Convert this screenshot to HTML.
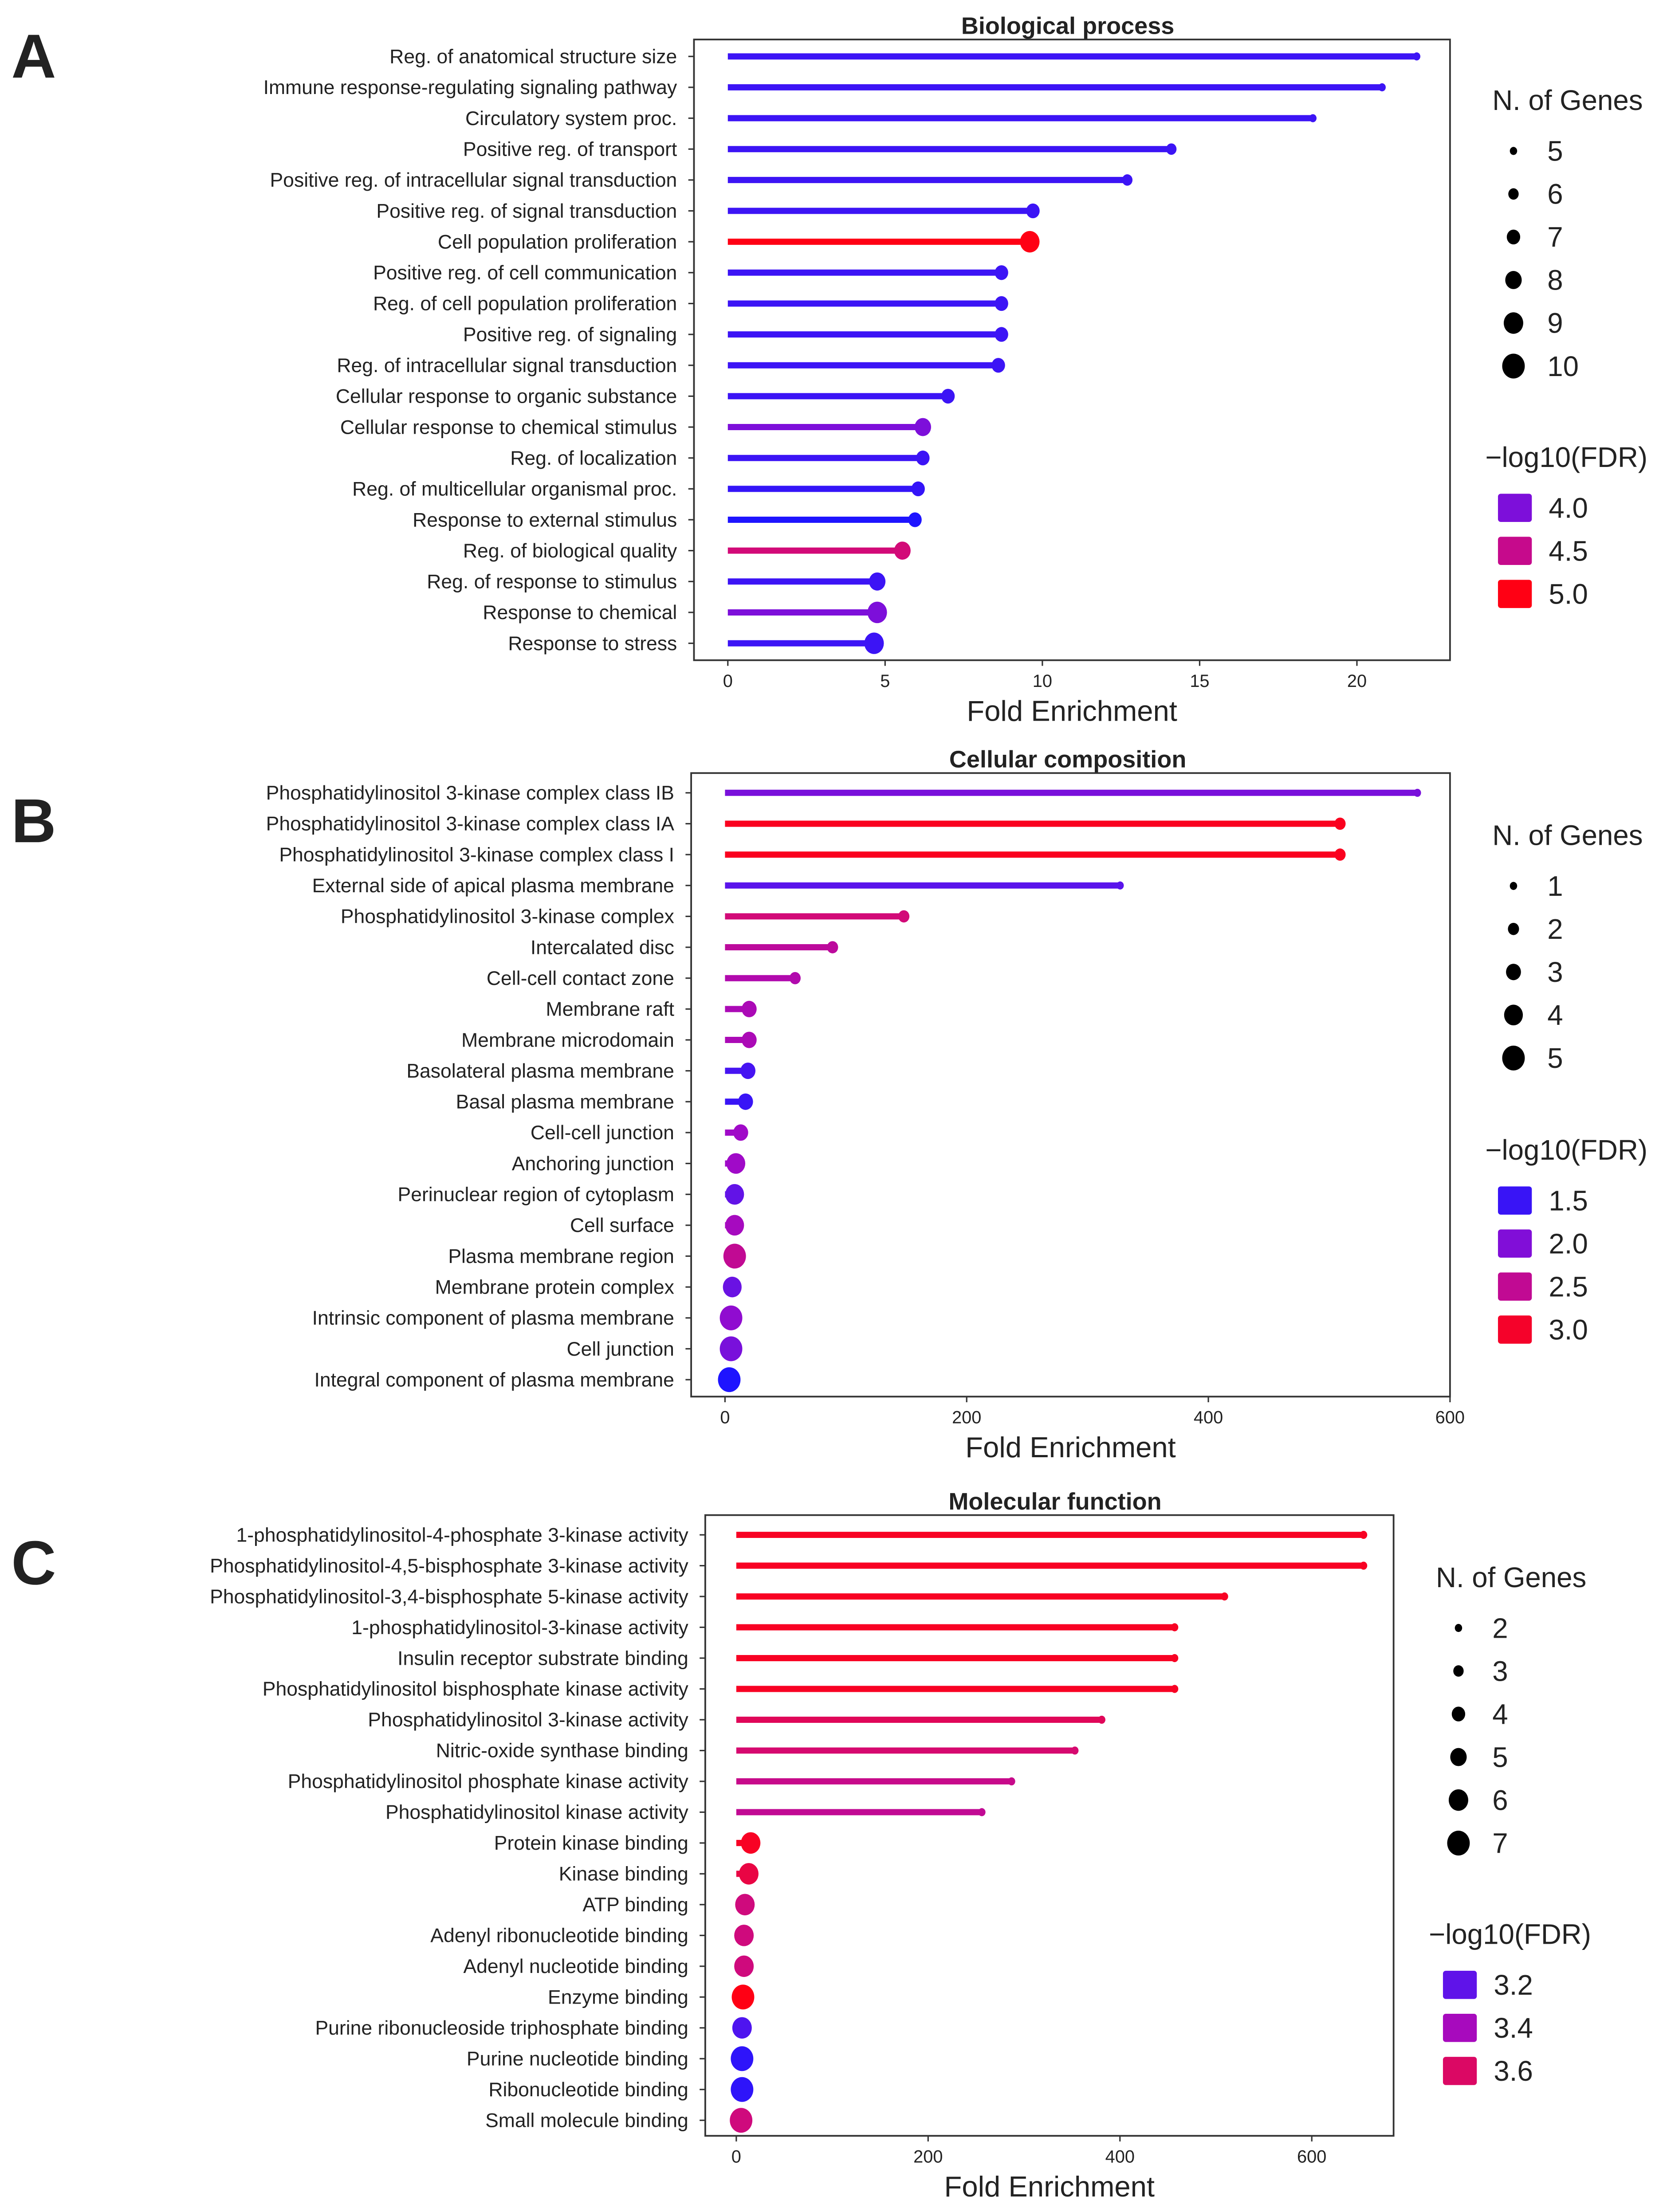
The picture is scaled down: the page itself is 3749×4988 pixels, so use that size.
<!DOCTYPE html>
<html><head><meta charset="utf-8"><style>
html,body{margin:0;padding:0;background:#fff}
svg{display:block}
text{font-family:"Liberation Sans",Arial,sans-serif;fill:#222}
</style></head><body>
<svg id="fig" width="3749" height="4988" viewBox="0 0 1179 1568" preserveAspectRatio="none" xmlns="http://www.w3.org/2000/svg"></svg>
<script>
// ---------- Panel A data ----------
const catsA=["Reg. of anatomical structure size","Immune response-regulating signaling pathway","Circulatory system proc.","Positive reg. of transport","Positive reg. of intracellular signal transduction","Positive reg. of signal transduction","Cell population proliferation","Positive reg. of cell communication","Reg. of cell population proliferation","Positive reg. of signaling","Reg. of intracellular signal transduction","Cellular response to organic substance","Cellular response to chemical stimulus","Reg. of localization","Reg. of multicellular organismal proc.","Response to external stimulus","Reg. of biological quality","Reg. of response to stimulus","Response to chemical","Response to stress"];
const foldA=[21.9,20.8,18.6,14.1,12.7,9.7,9.6,8.7,8.7,8.7,8.6,7.0,6.2,6.2,6.05,5.95,5.55,4.75,4.75,4.65];
const genesA=[5,5,5,6,6,7,9,7,7,7,7,7,8,7,7,7,8,8,9,9];
const fdrA=[3.6,3.6,3.6,3.6,3.6,3.6,5.0,3.6,3.6,3.6,3.6,3.6,4.0,3.6,3.55,3.35,4.6,3.6,4.0,3.6];
const ticksA=[0,5,10,15,20];
const sizeLegA=[5,6,7,8,9,10];
const colLegA=["4.0","4.5","5.0"];
// ---------- Panel B data ----------
const catsB=["Phosphatidylinositol 3-kinase complex class IB","Phosphatidylinositol 3-kinase complex class IA","Phosphatidylinositol 3-kinase complex class I","External side of apical plasma membrane","Phosphatidylinositol 3-kinase complex","Intercalated disc","Cell-cell contact zone","Membrane raft","Membrane microdomain","Basolateral plasma membrane","Basal plasma membrane","Cell-cell junction","Anchoring junction","Perinuclear region of cytoplasm","Cell surface","Plasma membrane region","Membrane protein complex","Intrinsic component of plasma membrane","Cell junction","Integral component of plasma membrane"];
const foldB=[573,509,509,327,148,89,58,20,20,19,17,13,9,8,8,8,6,5,5,3.5];
const genesB=[1,2,2,1,2,2,2,3,3,3,3,3,4,4,4,5,4,5,5,5];
const fdrB=[1.95,3.05,3.05,1.75,2.65,2.45,2.35,2.3,2.3,1.6,1.5,2.2,2.2,1.8,2.25,2.5,1.85,2.1,1.95,1.3];
const ticksB=[0,200,400,600];
const sizeLegB=[1,2,3,4,5];
const colLegB=["1.5","2.0","2.5","3.0"];
// ---------- Panel C data ----------
const catsC=["1-phosphatidylinositol-4-phosphate 3-kinase activity","Phosphatidylinositol-4,5-bisphosphate 3-kinase activity","Phosphatidylinositol-3,4-bisphosphate 5-kinase activity","1-phosphatidylinositol-3-kinase activity","Insulin receptor substrate binding","Phosphatidylinositol bisphosphate kinase activity","Phosphatidylinositol 3-kinase activity","Nitric-oxide synthase binding","Phosphatidylinositol phosphate kinase activity","Phosphatidylinositol kinase activity","Protein kinase binding","Kinase binding","ATP binding","Adenyl ribonucleotide binding","Adenyl nucleotide binding","Enzyme binding","Purine ribonucleoside triphosphate binding","Purine nucleotide binding","Ribonucleotide binding","Small molecule binding"];
const foldC=[654,654,509,457,457,457,381,353,287,256,15,13,9,8,8,7,6,6,6,5];
const genesC=[2,2,2,2,2,2,2,2,2,2,6,6,6,6,6,7,6,7,7,7];
const fdrC=[3.72,3.72,3.72,3.72,3.72,3.72,3.62,3.58,3.52,3.5,3.72,3.66,3.55,3.55,3.55,3.75,3.15,3.05,3.05,3.55];
const ticksC=[0,200,400,600];
const sizeLegC=[2,3,4,5,6,7];
const colLegC=["3.2","3.4","3.6"];

const NS="http://www.w3.org/2000/svg";
const svg=document.getElementById('fig');
function el(tag,attrs,parent){const e=document.createElementNS(NS,tag);for(const k in attrs)e.setAttribute(k,attrs[k]);(parent||svg).appendChild(e);return e;}
const stops=[[30,20,255],[90,20,235],[160,10,200],[210,10,120],[255,0,20]];
function colorAt(t){t=Math.max(0,Math.min(1,t));const p=t*(stops.length-1);const i=Math.min(stops.length-2,Math.floor(p));const f=p-i;const a=stops[i],b=stops[i+1];return `rgb(${Math.round(a[0]+(b[0]-a[0])*f)},${Math.round(a[1]+(b[1]-a[1])*f)},${Math.round(a[2]+(b[2]-a[2])*f)})`;}

function panel(o){
  const g=el('g',{});
  
  
  const L=el('text',{x:8,y:o.letterY,'font-size':44,'font-weight':'bold',fill:'#000'},g);L.textContent=o.letter;
  
  const box=el('rect',{x:o.bx0,y:o.by0,width:o.bx1-o.bx0,height:o.by1-o.by0,fill:'none',stroke:'#333','stroke-width':1.2},g);
  
  const T=el('text',{x:o.titleX,y:o.by0-4,'font-size':17,'font-weight':'bold','text-anchor':'middle',fill:'#000'},g);T.textContent=o.title;
  
  const xs=v=>o.x0+(v-o.d0)*(o.x1-o.x0)/(o.d1-o.d0);
  const n=o.cats.length;const ys=i=>o.y0+i*(o.yN-o.y0)/(n-1);
  const cs=v=>colorAt((v-o.c0)/(o.c1-o.c0));
  const rs=v=>o.r0+(v-o.g0)*(o.r1-o.r0)/(o.g1-o.g0);
  o.ticks.forEach(t=>{
    el('line',{x1:xs(t),x2:xs(t),y1:o.by1,y2:o.by1+4,stroke:'#333'},g);
    const tt=el('text',{x:xs(t),y:o.by1+19,'font-size':12.5,'text-anchor':'middle',fill:'#333'},g);tt.textContent=t;
    
  });
  const at=el('text',{x:(o.bx0+o.bx1)/2+o.axOff,y:o.by1+43,'font-size':20.5,'text-anchor':'middle',fill:'#222'},g);at.textContent='Fold Enrichment';
  
  o.cats.forEach((c,i)=>{
    const y=ys(i);
    el('line',{x1:o.bx0-4,x2:o.bx0,y1:y,y2:y,stroke:'#333'},g);
    const lt=el('text',{x:o.bx0-12,y:y+4.8,'font-size':14,'text-anchor':'end',fill:'#222'},g);lt.textContent=c;
    
    const col=cs(o.fdr[i]);
    const ln=el('line',{x1:xs(0),x2:xs(o.fold[i]),y1:y,y2:y,stroke:col,'stroke-width':4.4},g);
    
    const d=el('ellipse',{cx:xs(o.fold[i]),cy:y,rx:rs(o.genes[i]),ry:rs(o.genes[i])*1.1,fill:col},g);
    
  });
  const st=el('text',{x:o.lx,y:o.sizeTitleY,'font-size':20,fill:'#222'},g);st.textContent='N. of Genes';
  
  o.sizeLeg.forEach((v,i)=>{
    const y=o.sizeTitleY+29+i*30.5;
    const d=el('ellipse',{cx:o.ldx,cy:y,rx:rs(v),ry:rs(v)*1.1,fill:'#000'},g);
    
    const t=el('text',{x:o.ldx+24,y:y+7,'font-size':20,fill:'#222'},g);t.textContent=v;
    
  });
  const ct=el('text',{x:o.lx-5,y:o.colTitleY,'font-size':20,fill:'#222'},g);ct.textContent='\u2212log10(FDR)';
  
  o.colLeg.forEach((v,i)=>{
    const y=o.colTitleY+29+i*30.5;
    const r=el('rect',{x:o.ldx-11,y:y-10,width:24,height:20,rx:2,fill:cs(parseFloat(v))},g);
    
    const t=el('text',{x:o.ldx+25,y:y+7,'font-size':20,fill:'#222'},g);t.textContent=v;
    
  });
}
panel({name:'biological-process',letter:'A',letterY:55,title:'Biological process',titleX:757,bx0:492,bx1:1028,by0:28,by1:468,x0:516,x1:962,d0:0,d1:20,y0:40,yN:456,axOff:0,
  cats:catsA,fold:foldA,genes:genesA,fdr:fdrA,ticks:ticksA,c0:3.4,c1:5.0,g0:5,g1:10,r0:2.6,r1:8.0,
  lx:1058,ldx:1073,sizeTitleY:78,colTitleY:331,sizeLeg:sizeLegA,colLeg:colLegA});
panel({name:'cellular-composition',letter:'B',letterY:597,title:'Cellular composition',titleX:757,bx0:490,bx1:1028,by0:548,by1:990,x0:514,x1:1028,d0:0,d1:600,y0:562,yN:978,axOff:0,
  cats:catsB,fold:foldB,genes:genesB,fdr:fdrB,ticks:ticksB,c0:1.3,c1:3.1,g0:1,g1:5,r0:2.6,r1:8.0,
  lx:1058,ldx:1073,sizeTitleY:599,colTitleY:822,sizeLeg:sizeLegB,colLeg:colLegB});
panel({name:'molecular-function',letter:'C',letterY:1123,title:'Molecular function',titleX:748,bx0:500,bx1:988,by0:1074,by1:1514,x0:522,x1:930,d0:0,d1:600,y0:1088,yN:1503,axOff:0,
  cats:catsC,fold:foldC,genes:genesC,fdr:fdrC,ticks:ticksC,c0:3.0,c1:3.75,g0:2,g1:7,r0:2.6,r1:8.0,
  lx:1018,ldx:1034,sizeTitleY:1125,colTitleY:1378,sizeLeg:sizeLegC,colLeg:colLegC});
</script>
</body></html>
